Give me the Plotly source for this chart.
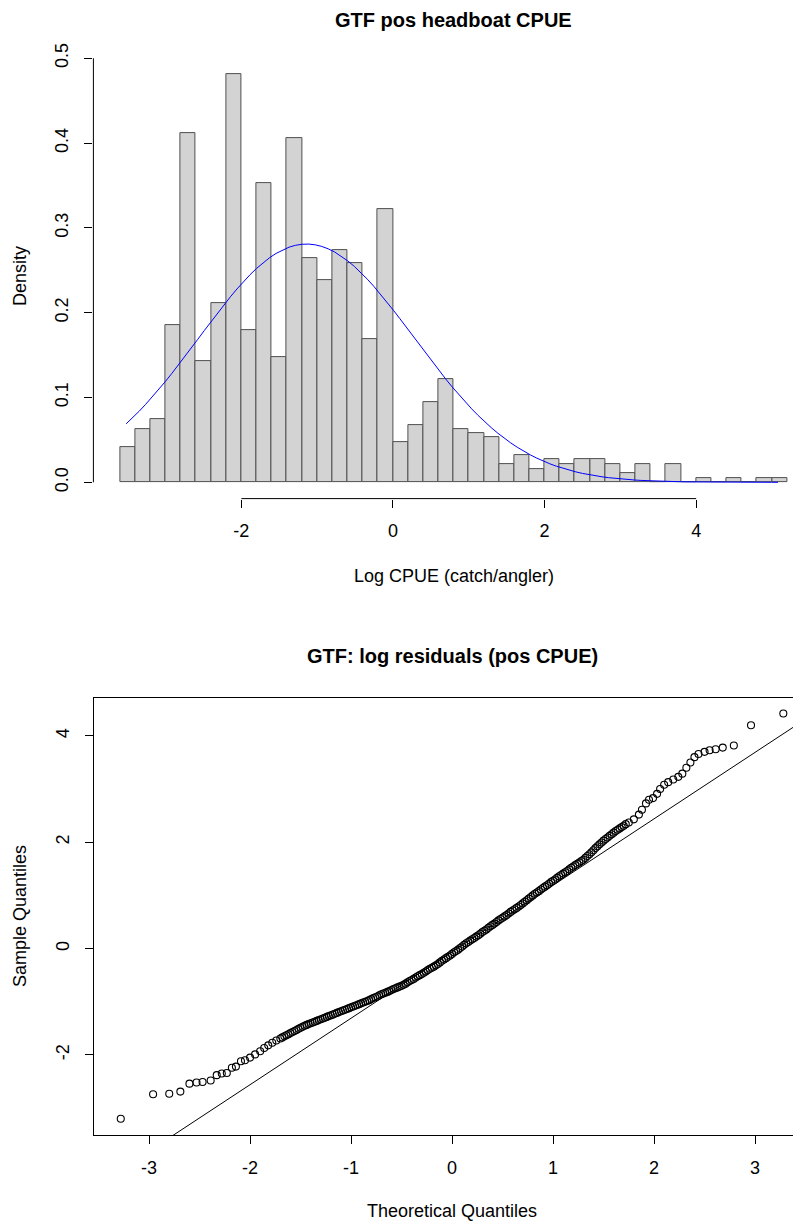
import numpy as np
import plotly.graph_objects as go

W, H = 801, 1226
OFF = 8  # default page (body) margin the figure is drawn inside

# ---------------- data: histogram of log CPUE ----------------
hist_breaks = [-3.6, -3.4, -3.2, -3.0, -2.8, -2.6, -2.4, -2.2, -2.0, -1.8, -1.6, -1.4,
               -1.2, -1.0, -0.8, -0.6, -0.4, -0.2, 0.0, 0.2, 0.4, 0.6, 0.8, 1.0, 1.2,
               1.4, 1.6, 1.8, 2.0, 2.2, 2.4, 2.6, 2.8, 3.0, 3.2, 3.4, 3.6, 3.8, 4.0,
               4.2, 4.4, 4.6, 4.8, 5.0, 5.2]
hist_density = [0.042, 0.063, 0.074, 0.185, 0.412, 0.143, 0.211, 0.481, 0.179, 0.353,
                0.148, 0.406, 0.264, 0.238, 0.274, 0.259, 0.169, 0.322, 0.048, 0.068,
                0.095, 0.122, 0.063, 0.058, 0.053, 0.021, 0.032, 0.016, 0.027, 0.021,
                0.027, 0.027, 0.021, 0.011, 0.021, 0.0, 0.021, 0.0, 0.0053, 0.0,
                0.0053, 0.0, 0.0053, 0.0053]
norm_mean = -1.14
norm_sd = 1.42
curve_from = -3.52
curve_to = 5.08

hist_xticks = [-2, 0, 2, 4]
hist_xticklabels = ["-2", "0", "2", "4"]
hist_yticks = [0.0, 0.1, 0.2, 0.3, 0.4, 0.5]
hist_yticklabels = ["0.0", "0.1", "0.2", "0.3", "0.4", "0.5"]

# ---------------- data: normal QQ plot of log residuals ----------------
# lower tail, dense middle band (two interleaved readings), upper tail
qq_theoretical = [
    -3.28, -2.96, -2.80, -2.69, -2.60, -2.53, -2.47, -2.39, -2.33, -2.28, -2.23, -2.18,
    -2.14, -2.09, -2.05, -2.00, -1.95, -1.90, -1.86, -1.82, -1.78, -1.74,
    -1.70, -1.66, -1.62, -1.58, -1.54, -1.50, -1.46, -1.42, -1.38, -1.34, -1.30, -1.26,
    -1.22, -1.18, -1.14, -1.10, -1.06, -1.02, -0.98, -0.94, -0.90, -0.86, -0.82, -0.78,
    -0.74, -0.70, -0.66, -0.62, -0.58, -0.54, -0.50, -0.46, -0.42, -0.38, -0.34, -0.30,
    -0.26, -0.22, -0.18, -0.14, -0.10, -0.06, -0.02, 0.02, 0.06, 0.10, 0.14, 0.18,
    0.22, 0.26, 0.30, 0.34, 0.38, 0.42, 0.46, 0.50, 0.54, 0.58, 0.62, 0.66, 0.70,
    0.74, 0.78, 0.82, 0.86, 0.90, 0.94, 0.98, 1.02, 1.06, 1.10, 1.14, 1.18, 1.22,
    1.26, 1.30, 1.34, 1.38, 1.42, 1.46, 1.50, 1.54, 1.58, 1.62, 1.66, 1.70,
    -1.68, -1.64, -1.60, -1.56, -1.52, -1.48, -1.44, -1.40, -1.36, -1.32, -1.28, -1.24,
    -1.20, -1.16, -1.12, -1.08, -1.04, -1.00, -0.96, -0.92, -0.88, -0.84, -0.80, -0.76,
    -0.72, -0.68, -0.64, -0.60, -0.56, -0.52, -0.48, -0.44, -0.40, -0.36, -0.32, -0.28,
    -0.24, -0.20, -0.16, -0.12, -0.08, -0.04, 0.00, 0.04, 0.08, 0.12, 0.16, 0.20,
    0.24, 0.28, 0.32, 0.36, 0.40, 0.44, 0.48, 0.52, 0.56, 0.60, 0.64, 0.68, 0.72,
    0.76, 0.80, 0.84, 0.88, 0.92, 0.96, 1.00, 1.04, 1.08, 1.12, 1.16, 1.20, 1.24,
    1.28, 1.32, 1.36, 1.40, 1.44, 1.48, 1.52, 1.56, 1.60, 1.64, 1.68, 1.72,
    1.75, 1.80, 1.85, 1.88, 1.92, 1.95, 1.99, 2.03, 2.06, 2.10, 2.14, 2.19, 2.24,
    2.28, 2.32, 2.36, 2.40, 2.44, 2.50, 2.55, 2.61, 2.68, 2.79, 2.96, 3.28]
qq_sample = [
    -3.20, -2.74, -2.73, -2.69, -2.54, -2.52, -2.51, -2.48, -2.38, -2.35, -2.34, -2.24,
    -2.22, -2.12, -2.10, -2.05, -1.99, -1.93, -1.87, -1.82, -1.77, -1.73,
    -1.69, -1.65, -1.61, -1.57, -1.53, -1.49, -1.45, -1.42, -1.39, -1.36, -1.33, -1.30,
    -1.27, -1.24, -1.21, -1.18, -1.15, -1.12, -1.09, -1.06, -1.03, -1.00, -0.97, -0.93,
    -0.90, -0.86, -0.83, -0.80, -0.76, -0.73, -0.70, -0.66, -0.61, -0.57, -0.52, -0.48,
    -0.43, -0.38, -0.34, -0.29, -0.23, -0.18, -0.13, -0.07, -0.02, 0.04, 0.10, 0.15,
    0.20, 0.25, 0.31, 0.36, 0.42, 0.47, 0.53, 0.58, 0.63, 0.69, 0.74, 0.79, 0.85,
    0.91, 0.97, 1.03, 1.08, 1.14, 1.19, 1.25, 1.30, 1.36, 1.41, 1.46, 1.52, 1.57,
    1.62, 1.67, 1.74, 1.81, 1.89, 1.96, 2.03, 2.09, 2.15, 2.21, 2.26, 2.31,
    -1.67, -1.63, -1.59, -1.55, -1.51, -1.47, -1.435, -1.405, -1.375, -1.345, -1.315, -1.285,
    -1.255, -1.225, -1.195, -1.165, -1.135, -1.105, -1.075, -1.045, -1.015, -0.985, -0.95, -0.915,
    -0.88, -0.845, -0.815, -0.78, -0.745, -0.715, -0.68, -0.635, -0.59, -0.545, -0.50, -0.455,
    -0.405, -0.36, -0.315, -0.26, -0.205, -0.155, -0.10, -0.045, 0.01, 0.07, 0.125, 0.175,
    0.225, 0.28, 0.335, 0.39, 0.445, 0.50, 0.555, 0.605, 0.66, 0.715, 0.765, 0.82, 0.88,
    0.94, 1.00, 1.055, 1.11, 1.165, 1.22, 1.275, 1.33, 1.385, 1.435, 1.49, 1.545, 1.595,
    1.645, 1.705, 1.775, 1.85, 1.925, 1.995, 2.06, 2.12, 2.18, 2.235, 2.285, 2.34,
    2.37, 2.43, 2.52, 2.61, 2.73, 2.80, 2.83, 2.91, 3.00, 3.08, 3.13, 3.18, 3.23,
    3.29, 3.40, 3.50, 3.60, 3.66, 3.70, 3.73, 3.75, 3.78, 3.82, 4.20, 4.42]
qqline_intercept = -0.06
qqline_slope = 1.25

qq_xticks = [-3, -2, -1, 0, 1, 2, 3]
qq_xticklabels = ["-3", "-2", "-1", "0", "1", "2", "3"]
qq_yticks = [-2, 0, 2, 4]
qq_yticklabels = ["-2", "0", "2", "4"]

# ---------------- layout geometry (reference pixels) ----------------
FONT = "Liberation Sans, Arial, Helvetica, sans-serif"
FW, FH = W - OFF, H - OFF


def px(xp):
    return (xp - OFF) / FW


def py(yp):
    return 1 - (yp - OFF) / FH


hist_xrange = [-3.952, 5.383]
hist_yrange = [-0.0192, 0.5002]
top_left, top_top, top_bottom = 93.4, 58.1, 498.6

qq_xrange = [-3.547, 3.455]
qq_yrange = [-3.506, 4.722]
bot_left, bot_top, bot_bottom = 93.8, 697.5, 1135.0

fig = go.Figure()

centers = [(hist_breaks[i] + hist_breaks[i + 1]) / 2 for i in range(len(hist_density))]
widths = [hist_breaks[i + 1] - hist_breaks[i] for i in range(len(hist_density))]
fig.add_trace(go.Bar(
    x=centers, y=hist_density, width=widths,
    marker=dict(color="#D3D3D3", line=dict(color="#505050", width=1)),
    xaxis="x", yaxis="y", showlegend=False, hoverinfo="skip"))

cx = np.linspace(curve_from, curve_to, 101)
cy = np.exp(-0.5 * ((cx - norm_mean) / norm_sd) ** 2) / (norm_sd * np.sqrt(2 * np.pi))
fig.add_trace(go.Scatter(x=cx, y=cy, mode="lines", line=dict(color="blue", width=1),
                         xaxis="x", yaxis="y", showlegend=False, hoverinfo="skip"))

fig.add_trace(go.Scatter(
    x=qq_theoretical, y=qq_sample, mode="markers",
    marker=dict(symbol="circle-open", size=7, color="black",
                line=dict(width=1.1, color="black")),
    xaxis="x2", yaxis="y2", showlegend=False, hoverinfo="skip"))

lx = np.array(qq_xrange)
fig.add_trace(go.Scatter(x=lx, y=qqline_intercept + qqline_slope * lx, mode="lines",
                         line=dict(color="black", width=1),
                         xaxis="x2", yaxis="y2", showlegend=False, hoverinfo="skip"))

tickfont = dict(family=FONT, size=18, color="black")
common_axis = dict(showgrid=False, zeroline=False, ticks="outside", ticklen=8,
                   tickcolor="black", tickwidth=1, tickfont=tickfont, automargin=False)

fig.update_layout(
    width=FW, height=FH, margin=dict(l=0, r=0, t=0, b=0, autoexpand=False),
    paper_bgcolor="white", plot_bgcolor="white", bargap=0,
    xaxis=dict(domain=[px(top_left), 1], range=hist_xrange, anchor="y",
               tickvals=hist_xticks, ticktext=hist_xticklabels, showline=False,
               ticklabelstandoff=8, **common_axis),
    yaxis=dict(domain=[py(top_bottom), py(top_top)], range=hist_yrange, anchor="x",
               tickvals=hist_yticks, ticktext=hist_yticklabels, tickangle=-90,
               showline=False, ticklabelstandoff=9, **common_axis),
    xaxis2=dict(domain=[px(bot_left), 1], range=qq_xrange, anchor="y2",
                tickvals=qq_xticks, ticktext=qq_xticklabels, showline=True, mirror=True,
                linecolor="black", linewidth=1, ticklabelstandoff=8, **common_axis),
    yaxis2=dict(domain=[py(bot_bottom), py(bot_top)], range=qq_yrange, anchor="x2",
                tickvals=qq_yticks, ticktext=qq_yticklabels, tickangle=-90,
                showline=True, mirror=False, linecolor="black", linewidth=1,
                ticklabelstandoff=9, **common_axis),
)

# R-style axis lines spanning only from first to last tick (histogram panel)
fig.add_shape(type="line", xref="x", yref="y domain", x0=hist_xticks[0], x1=hist_xticks[-1],
              y0=0, y1=0, line=dict(color="black", width=1))
fig.add_shape(type="line", xref="x domain", yref="y", x0=0, x1=0,
              y0=hist_yticks[0], y1=hist_yticks[-1], line=dict(color="black", width=1))

ann_font = dict(family=FONT, size=18, color="black")
title_font = dict(family=FONT, size=20, color="black")


def text(t, xp, yp, font, angle=0):
    fig.add_annotation(text=t, x=px(xp), y=py(yp), xref="paper", yref="paper",
                       showarrow=False, xanchor="center", yanchor="middle",
                       textangle=angle, font=font, borderpad=0)


text("<b>GTF pos headboat CPUE</b>", 453.6, 19.5, title_font)
text("Log CPUE (catch/angler)", 453.6, 576, ann_font)
text("Density", 20, 276, ann_font, -90)

text("<b>GTF: log residuals (pos CPUE)</b>", 452, 656, title_font)
text("Theoretical Quantiles", 452, 1211, ann_font)
text("Sample Quantiles", 20, 916, ann_font, -90)

fig.write_html("out.html")
